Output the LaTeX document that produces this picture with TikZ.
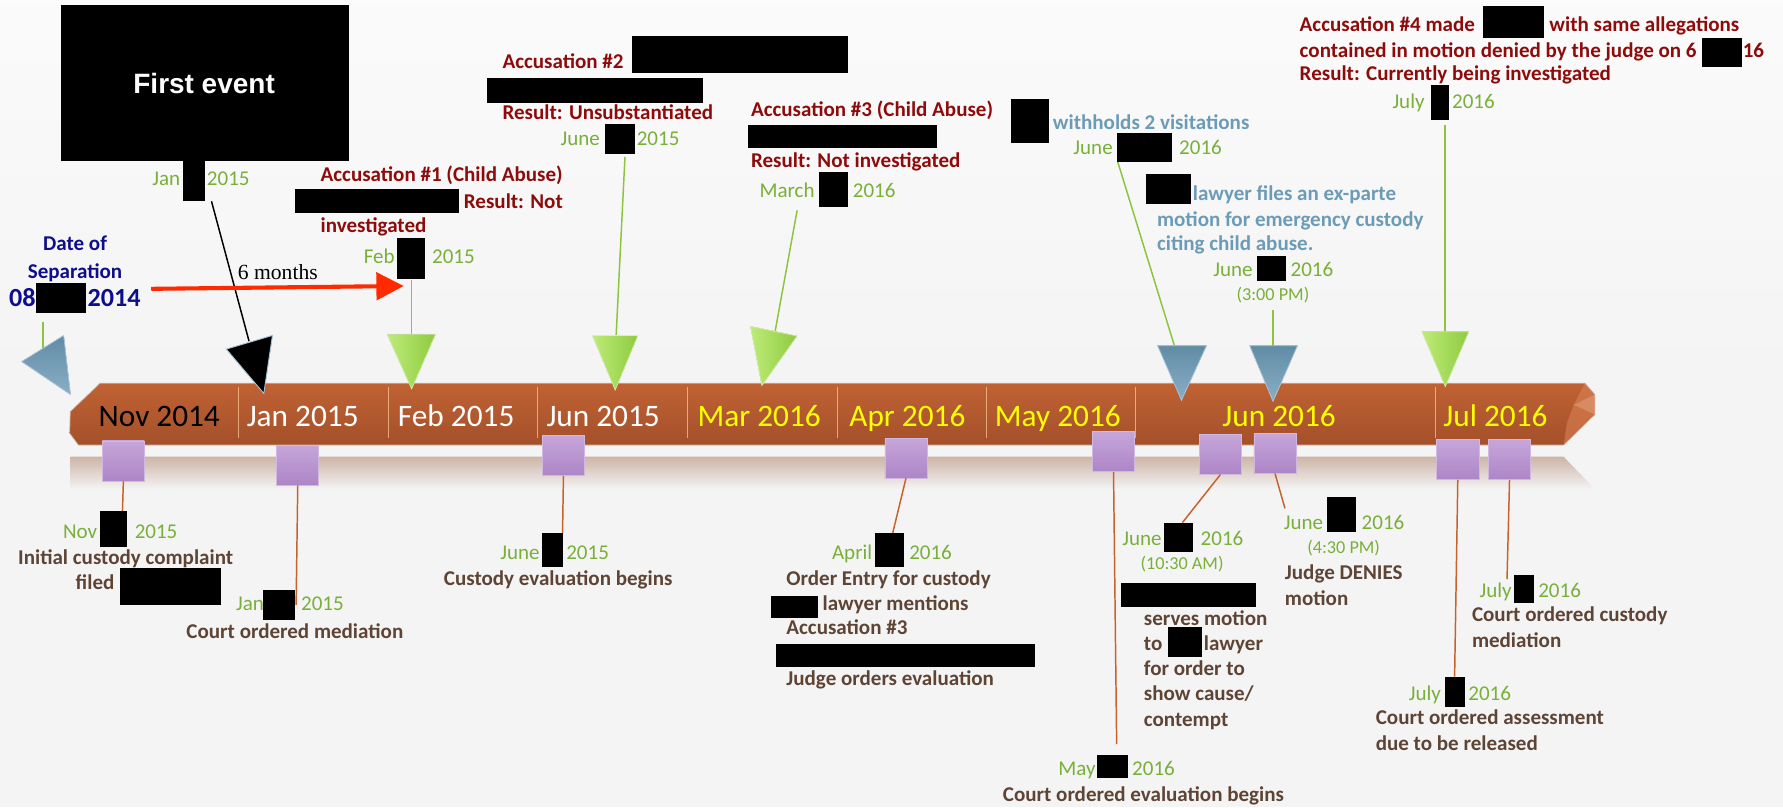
\documentclass[tikz,border=0pt]{standalone}
\usepackage{fontspec}
\setmainfont{Carlito}
\newfontfamily\arialf{Liberation Sans}
\newfontfamily\timesf{Liberation Serif}
\usetikzlibrary{arrows.meta}
\definecolor{bgc}{HTML}{F4F4F4}
\definecolor{dgreen}{HTML}{78B03A}
\definecolor{lgreen}{HTML}{8CC43E}
\definecolor{dred}{HTML}{8E0B0B}
\definecolor{brn}{HTML}{5E4434}
\definecolor{bgray}{HTML}{6C9BB8}
\definecolor{navyc}{HTML}{0E0E8C}
\definecolor{orgc}{HTML}{C8622C}
\definecolor{monyel}{HTML}{FFFF00}
\definecolor{redar}{HTML}{FF2A00}
\definecolor{gtl}{HTML}{BDEB78}
\definecolor{gtr}{HTML}{8FCB3F}
\definecolor{sqt}{HTML}{C6A6DA}
\definecolor{sqb}{HTML}{AD85C6}
\definecolor{bart}{HTML}{C06234}
\definecolor{barb}{HTML}{A4502A}
\definecolor{refl}{HTML}{CDB4A7}
\definecolor{facet}{HTML}{DC8556}
\begin{document}
\begin{tikzpicture}[x=1pt,y=-1pt,
  lb/.style={inner sep=0pt,outer sep=0pt,anchor=base west,yshift=-6pt,font=\fontsize{18.5}{22}\selectfont},
  lbc/.style={lb,anchor=base},
  dt/.style={lb,text=dgreen},
  sm/.style={inner sep=0pt,outer sep=0pt,anchor=base west,yshift=-5pt,text=dgreen,font=\fontsize{16}{19}\selectfont},
  rdt/.style={lb,text=dred,font=\fontsize{18.5}{22}\selectfont\bfseries},
  brt/.style={lb,text=brn,font=\fontsize{18.5}{22}\selectfont\bfseries},
  blt/.style={lb,text=bgray,font=\fontsize{18.5}{22}\selectfont\bfseries},
  nvt/.style={lbc,text=navyc,font=\fontsize{18.5}{22}\selectfont\bfseries},
  nvbig/.style={inner sep=0pt,outer sep=0pt,anchor=base west,yshift=-7.5pt,text=navyc,font=\fontsize{23}{27}\selectfont\bfseries},
  mon/.style={inner sep=0pt,outer sep=0pt,anchor=base west,yshift=-9pt,font=\fontsize{27.5}{32}\selectfont},
  redact/.style={fill=black},
  gline/.style={draw=lgreen,line width=1.3pt},
  oline/.style={draw=orgc,line width=1.3pt},
  gtri/.style={left color=gtl,right color=gtr,draw=gtl!60!white,line width=0.6pt},
  btri/.style={top color=bgray!90!black,bottom color=bgray!80!white,draw=bgray!50!white,line width=0.6pt},
  sqbox/.style={minimum width=37pt,minimum height=35.2pt,inner sep=0pt,top color=sqt,bottom color=sqb,draw=sqt!80!white,line width=0.6pt},
  divl/.style={draw=orange!40!white,line width=0.8pt,opacity=0.7}
]
\useasboundingbox (0,0) rectangle (1568,709.7);
\fill[bgc] (0,0) rectangle (1568,709.7);
\shade[top color=white!60!bgc,bottom color=bgc] (0,0) rectangle (1568,330);

% ---------- timeline bar ----------
\shade[top color=refl,bottom color=bgc]
  (62,401.6) -- (1375,401.6) -- (1402.5,430) -- (62,430) -- cycle;
\shade[top color=bart,bottom color=barb,draw=refl,line width=0.6pt]
  (88,337) -- (1393.7,337) -- (1402.5,347) -- (1402.5,364.5) -- (1375,391.4)
  -- (69,391.4) -- (61.3,381) -- (61.8,362) -- cycle;
\fill[facet,opacity=0.55] (1384,356) -- (1393.7,337) -- (1402.5,347) -- (1402.5,364.5) -- (1375,391.4) -- (1378,372) -- cycle;
\fill[facet!70!white,opacity=0.45] (1384,356) -- (1402.5,347) -- (1402.5,364.5) -- cycle;
\foreach \dx in {209.7,341.6,472.9,604.4,736.3,867.5,998.8,1262}
  \draw[divl] (\dx,340) -- (\dx,385);
\node[mon,text=black] (mNov) at (86.8,366.4) {Nov 2014};
\node[mon,text=white] (mJan) at (217,366.4) {Jan 2015};
\node[mon,text=white] (mFeb) at (350,366.4) {Feb 2015};
\node[mon,text=white] (mJun) at (480.6,366.4) {Jun 2015};
\node[mon,text=monyel] (mMar) at (613.5,366.4) {Mar 2016};
\node[mon,text=monyel] (mApr) at (747,366.4) {Apr 2016};
\node[mon,text=monyel] (mMay) at (875,366.4) {May 2016};
\node[mon,text=monyel] (mJun16) at (1075,366.4) {Jun 2016};
\node[mon,text=monyel] (mJul16) at (1269.4,366.4) {Jul 2016};

% ---------- first event ----------
\fill[redact] (54,4.4) rectangle (307,141.6);
\fill[redact] (161,141.6) rectangle (180,176.8);
\node[inner sep=0pt,text=white,font=\arialf\bfseries\fontsize{24.6}{28}\selectfont] (first) at (179.5,73) {First event};
\node[dt] (d0a) at (134,157) {Jan};
\node[dt] (d0b) at (182,157) {2015};
\coordinate (k0) at (186,177);
\coordinate (k1) at (219,300);
\draw[line width=1.3pt] (k0) -- (k1);
\filldraw[fill=black,draw=bgray!60!white,line width=0.8pt] (199,307) -- (239.6,295) -- (232,346) -- cycle;
\node[inner sep=0pt,anchor=base west,yshift=-6pt,font=\timesf\fontsize{19}{22}\selectfont] (six) at (209,240) {6 months};

% ---------- date of separation ----------
\node[nvt] (sepA) at (66,214) {Date of};
\node[nvt] (sepB) at (66,239) {Separation};
\node[nvbig] (sepC) at (8,262) {08};
\fill[redact] (32,249) rectangle (76,275);
\node[nvbig] (sepD) at (77,262) {2014};
\coordinate (s0) at (38,283);
\coordinate (s1) at (38,306.5);
\draw[gline] (s0) -- (s1);
\filldraw[btri] (19,318) -- (56,295) -- (62,347) -- cycle;
\coordinate (r0) at (133,254);
\coordinate (r1) at (355,251.5);
\draw[redar,line width=3.6pt,-{Triangle[length=24pt,width=24pt]}] (r0) -- (r1);

% ---------- accusation 1 ----------
\node[rdt] (a1a) at (282,154) {Accusation \#1 (Child Abuse)};
\fill[redact] (259.5,166) rectangle (404,187);
\node[rdt] (a1b) at (408,177) {Result: Not};
\node[rdt] (a1c) at (282,198.5) {investigated};
\node[dt] (a1d) at (320,226) {Feb};
\fill[redact] (349,209) rectangle (374,245.6);
\node[dt] (a1e) at (380,226) {2015};
\coordinate (g1a) at (362,246);
\coordinate (g1b) at (362,294);
\draw[gline] (g1a) -- (g1b);
\filldraw[gtri] (340.5,294) -- (383,294) -- (362,342) -- cycle;

% ---------- accusation 2 ----------
\node[rdt] (a2a) at (442,54) {Accusation \#2};
\fill[redact] (556,31.7) rectangle (746,64);
\fill[redact] (428,69) rectangle (618,91);
\node[rdt] (a2b) at (442,99) {Result: Unsubstantiated};
\node[dt] (a2c) at (493,122) {June};
\fill[redact] (532,109) rectangle (558,135);
\node[dt] (a2d) at (560,122) {2015};
\coordinate (g2a) at (549.6,138);
\coordinate (g2b) at (541.8,296);
\draw[gline] (g2a) -- (g2b);
\filldraw[gtri] (521,295) -- (561,295) -- (541,343) -- cycle;

% ---------- accusation 3 ----------
\node[rdt] (a3a) at (660.5,96.7) {Accusation \#3 (Child Abuse)};
\fill[redact] (658,110) rectangle (824,130);
\node[rdt] (a3b) at (660.5,141) {Result: Not investigated};
\node[dt] (a3c) at (668,167.7) {March};
\fill[redact] (720,151.6) rectangle (746,181.8);
\node[dt] (a3d) at (750,167.7) {2016};
\coordinate (g3a) at (701,185);
\coordinate (g3b) at (681.6,291.7);
\draw[gline] (g3a) -- (g3b);
\filldraw[gtri] (660,287) -- (701,295.5) -- (670,339) -- cycle;

% ---------- withholds ----------
\fill[redact] (889,87) rectangle (922.5,125.5);
\node[blt] (w1) at (926,108) {withholds 2 visitations};
\node[dt] (w2) at (944,130) {June};
\fill[redact] (982.5,117) rectangle (1031,142.5);
\node[dt] (w3) at (1037,130) {2016};
\coordinate (g4a) at (983,142.5);
\coordinate (g4b) at (1032.6,303.4);
\draw[gline] (g4a) -- (g4b);
\filldraw[btri] (1018,304) -- (1061,304) -- (1039,352) -- cycle;

% ---------- ex-parte ----------
\fill[redact] (1008,153) rectangle (1047,179);
\node[blt] (e1) at (1049,170.6) {lawyer files an ex-parte};
\node[blt] (e2) at (1017.5,193.5) {motion for emergency custody};
\node[blt] (e3) at (1017.5,214) {citing child abuse.};
\node[dt] (e4) at (1067,237.5) {June};
\fill[redact] (1105.5,225) rectangle (1131,247);
\node[dt] (e5) at (1135,237.5) {2016};
\node[sm] (e6) at (1087.5,259.5) {(3:00 PM)};
\coordinate (g5a) at (1119.6,272.6);
\coordinate (g5b) at (1119.6,305);
\draw[gline] (g5a) -- (g5b);
\filldraw[btri] (1099,304) -- (1141,304) -- (1119.5,353) -- cycle;

% ---------- accusation 4 ----------
\node[rdt] (a4a) at (1143,22) {Accusation \#4 made};
\fill[redact] (1304,5.3) rectangle (1358,33);
\node[rdt] (a4b) at (1362.6,22) {with same allegations};
\node[rdt] (a4c) at (1143,44.6) {contained in motion denied by the judge on 6};
\fill[redact] (1496.6,33.7) rectangle (1531.6,58.6);
\node[rdt] (a4d) at (1532.6,44.6) {16};
\node[rdt] (a4e) at (1143,65) {Result: Currently being investigated};
\node[dt] (a4f) at (1224.6,89.4) {July};
\fill[redact] (1258.5,74.8) rectangle (1274,105.5);
\node[dt] (a4g) at (1277,89.4) {2016};
\coordinate (g6a) at (1270.8,110);
\coordinate (g6b) at (1270.8,292);
\draw[gline] (g6a) -- (g6b);
\filldraw[gtri] (1250.5,291.7) -- (1291.7,291.7) -- (1271,340) -- cycle;

% ---------- lower connectors ----------
\coordinate (oA) at (107.7,449.4);
\coordinate (oB) at (260.4,532);
\coordinate (oC) at (494.7,469);
\coordinate (oD) at (785,469);
\coordinate (oE) at (982,654.3);
\coordinate (oF) at (1039.8,459.6);
\coordinate (oG) at (1130,447);
\coordinate (oH) at (1279.2,595);
\coordinate (oI) at (1325.3,509.2);
\node[sqbox] (sq1) at (108.5,405.4) {};
\node[sqbox] (sq2) at (261.85,408.95) {};
\node[sqbox] (sq3) at (495.5,400.5) {};
\node[sqbox] (sq4) at (796.7,402.8) {};
\node[sqbox] (sq5) at (979.25,397.2) {};
\node[sqbox] (sq6) at (1073.2,399.5) {};
\node[sqbox] (sq7) at (1121.25,398.5) {};
\node[sqbox] (sq8) at (1282,404.15) {};
\node[sqbox] (sq9) at (1327.5,404.15) {};
\draw[oline] (sq1.south) -- (oA);
\draw[oline] (sq2.south) -- (oB);
\draw[oline] (sq3.south) -- (oC);
\draw[oline] (sq4.south) -- (oD);
\draw[oline] (sq5.south) -- (oE);
\draw[oline] (sq6.south) -- (oF);
\draw[oline] (sq7.south) -- (oG);
\draw[oline] (sq8.south) -- (oH);
\draw[oline] (sq9.south) -- (oI);

% A
\node[dt] (bA1) at (55.5,467.5) {Nov};
\fill[redact] (87.8,449.4) rectangle (111.7,480.7);
\node[dt] (bA2) at (118.5,467.5) {2015};
\node[brt] (bA3) at (16,490.4) {Initial custody complaint};
\node[brt] (bA4) at (66.6,512.8) {filed};
\fill[redact] (105.8,499.5) rectangle (194.5,532);
% B
\node[dt] (bB1) at (207.6,531) {Jan};
\fill[redact] (231,518.9) rectangle (259,545.2);
\node[dt] (bB2) at (264.8,531) {2015};
\node[brt] (bB3) at (164,555.5) {Court ordered mediation};
% C
\node[dt] (bC1) at (440,486) {June};
\fill[redact] (477,469) rectangle (494.7,499);
\node[dt] (bC2) at (498,486) {2015};
\node[brt] (bC3) at (390.4,509) {Custody evaluation begins};
% D
\node[dt] (bD1) at (731.7,486) {April};
\fill[redact] (769.3,469) rectangle (795.2,499);
\node[dt] (bD2) at (799.6,486) {2016};
\node[brt] (bD3) at (691.6,508.6) {Order Entry for custody};
\fill[redact] (678,524) rectangle (719.4,543.8);
\node[brt] (bD4) at (723.5,531) {lawyer mentions};
\node[brt] (bD5) at (691.6,552) {Accusation \#3};
\fill[redact] (682.4,566.3) rectangle (910.6,586.3);
\node[brt] (bD6) at (691.6,597) {Judge orders evaluation};
% E
\node[dt] (bE1) at (930.7,675.7) {May};
\fill[redact] (964.7,664) rectangle (991.7,684.4);
\node[dt] (bE2) at (995.7,675.7) {2016};
\node[brt] (bE3) at (882,699) {Court ordered evaluation begins};
% F
\node[dt] (bF1) at (987,474) {June};
\fill[redact] (1023.6,460.2) rectangle (1049.4,485);
\node[dt] (bF2) at (1055.9,474) {2016};
\node[sm] (bF3) at (1003,495.4) {(10:30 AM)};
\fill[redact] (985.8,513) rectangle (1104.5,533.5);
\node[brt] (bF4) at (1006,544.3) {serves motion};
\node[brt] (bF5) at (1006,565.7) {to};
\fill[redact] (1027.5,551.7) rectangle (1057.3,577.5);
\node[brt] (bF6) at (1058.8,565.7) {lawyer};
\node[brt] (bF7) at (1006,588.3) {for order to};
\node[brt] (bF8) at (1006,609.7) {show cause/};
\node[brt] (bF9) at (1006,633.2) {contempt};
% G
\node[dt] (bG1) at (1129,459.6) {June};
\fill[redact] (1167.3,437.3) rectangle (1192.5,467.6);
\node[dt] (bG2) at (1197.5,459.6) {2016};
\node[sm] (bG3) at (1149.7,481.6) {(4:30 PM)};
\node[brt] (bG4) at (1130,503.6) {Judge DENIES};
\node[brt] (bG5) at (1130,526.8) {motion};
% H
\node[dt] (bH1) at (1239,610.3) {July};
\fill[redact] (1271,595.6) rectangle (1288,621.5);
\node[dt] (bH2) at (1291.3,610.3) {2016};
\node[brt] (bH3) at (1209.9,630.8) {Court ordered assessment};
\node[brt] (bH4) at (1209.9,654.3) {due to be released};
% I
\node[dt] (bI1) at (1301.2,519.4) {July};
\fill[redact] (1331.5,505.7) rectangle (1348.8,530);
\node[dt] (bI2) at (1352.8,519.4) {2016};
\node[brt] (bI3) at (1294.5,540.8) {Court ordered custody};
\node[brt] (bI4) at (1294.5,563.4) {mediation};
\end{tikzpicture}
\end{document}
